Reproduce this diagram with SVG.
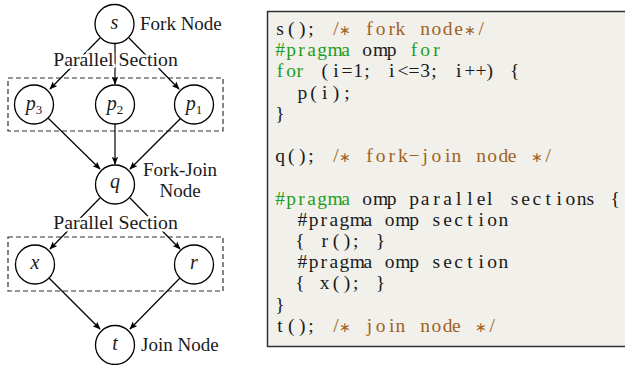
<svg xmlns="http://www.w3.org/2000/svg" width="625" height="365" viewBox="0 0 625 365">
  <style>
    .node circle { fill: #ffffff; stroke: #000000; stroke-width: 1.3; }
    .lbl { font-family: "Liberation Serif", "Times New Roman", serif; font-size: 19px; fill: #1a1a1a; }
    .var { font-family: "Liberation Serif", "Times New Roman", serif; font-style: italic; font-size: 20px; fill: #1a1a1a; text-anchor: middle; }
    .sub { font-style: normal; font-size: 13px; }
    .sec { font-family: "Liberation Serif", "Times New Roman", serif; font-size: 19.8px; fill: #1a1a1a; text-anchor: middle; stroke: #ffffff; stroke-width: 5; paint-order: stroke; stroke-linejoin: round; }
    .group { fill: none; stroke: #333333; stroke-width: 1.2; stroke-dasharray: 5 3; }
    .edge { stroke: #000000; stroke-width: 1.2; fill: none; marker-end: url(#arrow); }
    .code { font-family: "Liberation Serif", "Times New Roman", serif; font-size: 19.5px; fill: #1a1a1a; text-anchor: middle; }
    .kw { fill: #1f9e1f; }
    .cm { fill: #a2621f; }
    .ast { font-size: 14px; }
  </style>
  <defs>
    <marker id="arrow" viewBox="0 0 10 10" refX="9" refY="5" markerWidth="8" markerHeight="8" markerUnits="userSpaceOnUse" orient="auto">
      <path d="M0,1 L10,5 L0,9 L2,5 Z" fill="#000000"/>
    </marker>
  </defs>

  <rect width="625" height="365" fill="#ffffff"/>

  <!-- task-graph: parallel-section frames -->
  <rect class="group" x="8" y="78" width="215" height="53"/>
  <rect class="group" x="8" y="237" width="215" height="54"/>

  <!-- connectors -->
  <g id="edges">
    <line class="edge" x1="100" y1="38" x2="50" y2="89"/>
    <line class="edge" x1="115" y1="44" x2="115" y2="84"/>
    <line class="edge" x1="129" y1="38" x2="179" y2="89"/>
    <line class="edge" x1="48" y1="118" x2="100" y2="169"/>
    <line class="edge" x1="115" y1="124" x2="115" y2="164"/>
    <line class="edge" x1="181" y1="118" x2="130" y2="169"/>
    <line class="edge" x1="100" y1="198" x2="50" y2="249"/>
    <line class="edge" x1="130" y1="198" x2="180" y2="249"/>
    <line class="edge" x1="49" y1="278" x2="100" y2="329"/>
    <line class="edge" x1="180" y1="278" x2="130" y2="329"/>
  </g>

  <!-- section captions drawn over the connectors -->
  <text class="sec" x="115.5" y="66">Parallel Section</text>
  <text class="sec" x="115.5" y="229">Parallel Section</text>

  <g id="node-s" class="node">
    <circle cx="114.5" cy="24" r="19.5"/>
    <text class="var" x="114.5" y="29">s</text>
    <text class="lbl" x="140" y="30">Fork Node</text>
  </g>
  <g id="node-p3" class="node">
    <circle cx="34" cy="104.5" r="19.5"/>
    <text class="var" x="34" y="110">p<tspan class="sub" dy="4">3</tspan></text>
  </g>
  <g id="node-p2" class="node">
    <circle cx="115" cy="104.5" r="19.5"/>
    <text class="var" x="115" y="110">p<tspan class="sub" dy="4">2</tspan></text>
  </g>
  <g id="node-p1" class="node">
    <circle cx="194" cy="104.5" r="19.5"/>
    <text class="var" x="194" y="110">p<tspan class="sub" dy="4">1</tspan></text>
  </g>
  <g id="node-q" class="node">
    <circle cx="115" cy="184.5" r="19.5"/>
    <text class="var" x="115" y="188">q</text>
    <text class="lbl" x="180" y="176" text-anchor="middle">Fork-Join</text>
    <text class="lbl" x="180" y="197" text-anchor="middle">Node</text>
  </g>
  <g id="node-x" class="node">
    <circle cx="35" cy="264.5" r="19.5"/>
    <text class="var" x="35" y="269">x</text>
  </g>
  <g id="node-r" class="node">
    <circle cx="194" cy="264.5" r="19.5"/>
    <text class="var" x="194" y="269">r</text>
  </g>
  <g id="node-t" class="node">
    <circle cx="115" cy="345" r="19.5"/>
    <text class="var" x="115" y="350">t</text>
    <text class="lbl" x="141" y="351">Join Node</text>
  </g>

  <!-- source listing, ~11.17px columns -->
  <g id="listing">
    <path d="M640,11.5 H267.5 V346.5 H640" fill="#f1f0ea" stroke="#333333" stroke-width="1.5"/>
    <text class="code" y="35">
      <tspan x="280 291.2 302.3 313.5">s();</tspan>
      <tspan class="cm" x="335.9">/</tspan><tspan class="cm ast" x="347">∗</tspan>
      <tspan class="cm" x="369.4 380.5 391.7 402.9">fork</tspan>
      <tspan class="cm" x="425.2 436.4 447.6 458.7">node</tspan><tspan class="cm ast" x="469.9">∗</tspan><tspan class="cm" x="481.1">/</tspan>
    </text>
    <text class="code" y="56.2">
      <tspan class="kw" x="280 291.2 301.5 311.5 322 335 348">#pragma</tspan>
      <tspan x="367 380.5 394">omp</tspan>
      <tspan class="kw" x="414 425.2 436.4">for</tspan>
    </text>
    <text class="code" y="77.4">
      <tspan class="kw" x="280 291.2 302.3">for</tspan>
      <tspan x="324.7 335.9 347 358.2 369.4">(i=1;</tspan>
      <tspan x="391.7 402.9 414 425.2 436.4">i&lt;=3;</tspan>
      <tspan x="458.7 469.9 481.1 492.2">i++)</tspan>
      <tspan x="514.6">{</tspan>
    </text>
    <text class="code" y="98.6">
      <tspan x="302.3 313.5 324.7 335.9 347">p(i);</tspan>
    </text>
    <text class="code" y="119.8">
      <tspan x="280">}</tspan>
    </text>
    <text class="code" y="162.2">
      <tspan x="280 291.2 302.3 313.5">q();</tspan>
      <tspan class="cm" x="335.9">/</tspan><tspan class="cm ast" x="347">∗</tspan>
      <tspan class="cm" x="369.4 380.5 391.7 402.9 414 425.2 436.4 447.6 458.7">fork−join</tspan>
      <tspan class="cm" x="481.1 492.2 503.4 514.6">node</tspan>
      <tspan class="cm ast" x="536.9">∗</tspan><tspan class="cm" x="548.1">/</tspan>
    </text>
    <text class="code" y="204.6">
      <tspan class="kw" x="280 291.2 301.5 311.5 322 335 348">#pragma</tspan>
      <tspan x="367 380.5 394">omp</tspan>
      <tspan x="414 425.2 436.4 447.6 458.7 469.9 481.1 492.2">parallel</tspan>
      <tspan x="514.6 525.7 536.9 548.1 559.3 570.4 581.6 592.8">sections</tspan>
      <tspan x="615.1">{</tspan>
    </text>
    <text class="code" y="225.8">
      <tspan x="302.3 313.5 323.8 333.8 344.3 357.3 370.3">#pragma</tspan>
      <tspan x="389.5 402.9 416.5">omp</tspan>
      <tspan x="436.4 447.6 458.7 469.9 481.1 492.2 503.4">section</tspan>
    </text>
    <text class="code" y="247">
      <tspan x="302.3">{</tspan>
      <tspan x="324.7 335.9 347 358.2">r();</tspan>
      <tspan x="380.5">}</tspan>
    </text>
    <text class="code" y="268.2">
      <tspan x="302.3 313.5 323.8 333.8 344.3 357.3 370.3">#pragma</tspan>
      <tspan x="389.5 402.9 416.5">omp</tspan>
      <tspan x="436.4 447.6 458.7 469.9 481.1 492.2 503.4">section</tspan>
    </text>
    <text class="code" y="289.4">
      <tspan x="302.3">{</tspan>
      <tspan x="324.7 335.9 347 358.2">x();</tspan>
      <tspan x="380.5">}</tspan>
    </text>
    <text class="code" y="310.6">
      <tspan x="280">}</tspan>
    </text>
    <text class="code" y="331.8">
      <tspan x="280 291.2 302.3 313.5">t();</tspan>
      <tspan class="cm" x="335.9">/</tspan><tspan class="cm ast" x="347">∗</tspan>
      <tspan class="cm" x="369.4 380.5 391.7 402.9">join</tspan>
      <tspan class="cm" x="425.2 436.4 447.6 458.7">node</tspan>
      <tspan class="cm ast" x="481.1">∗</tspan><tspan class="cm" x="492.2">/</tspan>
    </text>
  </g>
</svg>
